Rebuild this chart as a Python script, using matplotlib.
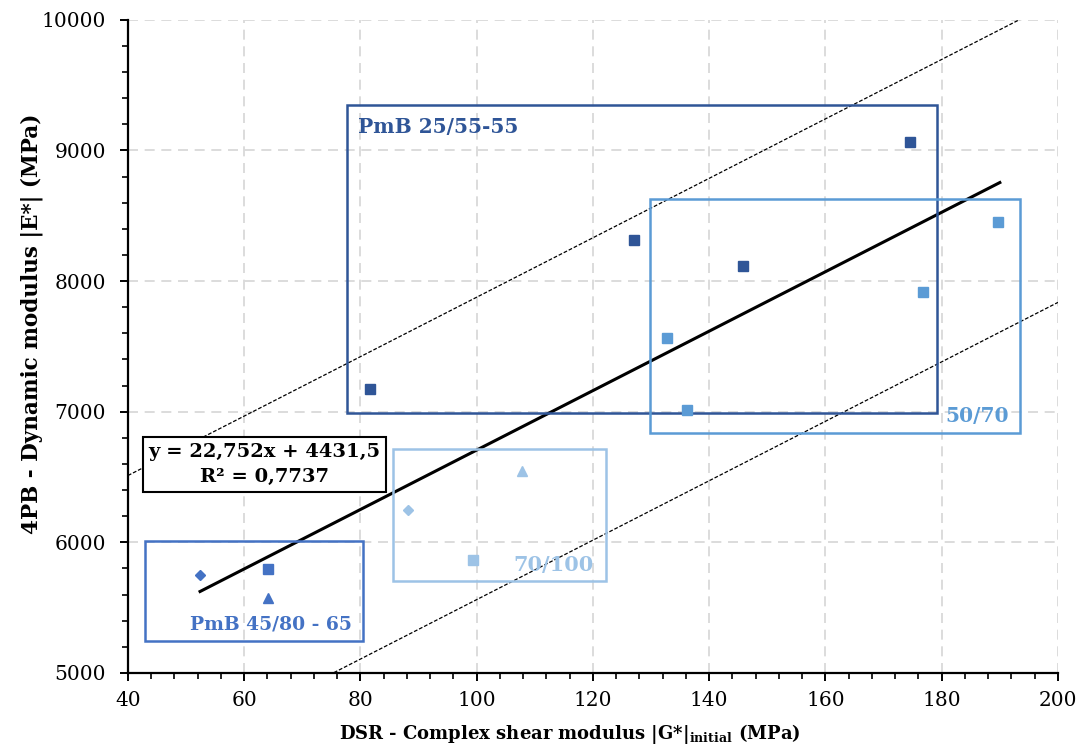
import numpy as np
import matplotlib.pyplot as plt

# Messwerte (DSR |G*| in MPa, 4PB |E*| in MPa)
pmb2555_x = [81.6, 127.0, 145.8, 174.5]
pmb2555_y = [7175, 8315, 8115, 9065]

b5070_x = [132.7, 136.2, 176.8, 189.7]
b5070_y = [7565, 7014, 7917, 8453]

b70100_x = [88.2, 99.4, 107.8]
b70100_y = [6248, 5865, 6547]
b70100_m = ['D', 's', '^']

pmb4580_x = [52.4, 64.1, 64.1]
pmb4580_y = [5750, 5796, 5574]
pmb4580_m = ['D', 's', '^']

# Regression und Streuband
k, d = 22.752, 4431.5
band_oben, band_unten = 1170, -1145
reg_x = [52.4, 190.0]

# Gruppenrahmen: (x0, x1, y0, y1)
rahmen = {
    'PmB 25/55-55': (77.7, 179.2, 6991, 9349),
    '50/70': (129.8, 193.5, 6838, 8629),
    '70/100': (85.6, 122.2, 5704, 6715),
    'PmB 45/80 - 65': (42.9, 80.4, 5245, 6011),
}

c_dunkel = '#2F5597'
c_5070 = '#5B9BD5'
c_70100 = '#9DC3E6'
c_4580 = '#4472C4'

plt.rcParams['font.family'] = 'DejaVu Serif'
plt.rcParams['mathtext.fontset'] = 'dejavuserif'

fig = plt.figure(figsize=(10.8, 7.51), dpi=100)
ax = fig.add_axes([0.1185, 0.1039, 0.8611, 0.8697])

ax.set_xlim(40, 200)
ax.set_ylim(5000, 10000)
ax.set_xticks(np.arange(40, 201, 20))
ax.set_yticks(np.arange(5000, 10001, 1000))
ax.set_xticks(np.arange(40, 201, 4), minor=True)
ax.set_yticks(np.arange(5000, 10001, 200), minor=True)
ax.grid(True, which='major', color='#D5D5D5', linestyle=(0, (6, 4)), linewidth=1.2)
ax.set_axisbelow(True)
for s in ['top', 'right']:
    ax.spines[s].set_visible(False)
for s in ['left', 'bottom']:
    ax.spines[s].set_linewidth(1.6)
ax.tick_params(which='major', direction='out', length=6, width=1.4, labelsize=14.5)
ax.tick_params(axis='y', which='major', pad=10)
ax.tick_params(axis='x', which='major', pad=7)
ax.tick_params(which='minor', direction='out', length=4, width=1.2)

# Streuband
xs = np.array([40, 200])
ax.plot(xs, k * xs + d + band_oben, color='black', linestyle=(0, (3, 1.5)), linewidth=0.9)
ax.plot(xs, k * xs + d + band_unten, color='black', linestyle=(0, (3, 1.5)), linewidth=0.9)

# Regressionsgerade
rx = np.array(reg_x)
ax.plot(rx, k * rx + d, color='black', linewidth=2.2)

# Rahmen
farben = {'PmB 25/55-55': c_dunkel, '50/70': c_5070, '70/100': c_70100,
          'PmB 45/80 - 65': c_4580}
for name, (x0, x1, y0, y1) in rahmen.items():
    ax.add_patch(plt.Rectangle((x0, y0), x1 - x0, y1 - y0, fill=False,
                               edgecolor=farben[name], linewidth=1.8, zorder=3))

# Punkte
ax.plot(pmb2555_x, pmb2555_y, 's', color=c_dunkel, ms=7.5, zorder=4)
ax.plot(b5070_x, b5070_y, 's', color=c_5070, ms=7.5, zorder=4)
for x, y, m in zip(b70100_x, b70100_y, b70100_m):
    ax.plot(x, y, m, color=c_70100, ms=7.5 if m != 'D' else 5.5, zorder=4)
for x, y, m in zip(pmb4580_x, pmb4580_y, pmb4580_m):
    ax.plot(x, y, m, color=c_4580, ms=7.5 if m != 'D' else 5.5, zorder=4)

# Beschriftungen der Gruppen
ax.text(79.5, 9180, 'PmB 25/55-55', color=c_dunkel, fontsize=14.5, fontweight='bold',
        va='center', ha='left')
ax.text(191.5, 6970, '50/70', color=c_5070, fontsize=14.5, fontweight='bold',
        va='center', ha='right')
ax.text(120.1, 5830, '70/100', color=c_70100, fontsize=15, fontweight='bold',
        va='center', ha='right')
ax.text(78.6, 5370, 'PmB 45/80 - 65', color=c_4580, fontsize=13.5, fontweight='bold',
        va='center', ha='right')

# Gleichung
ax.text(63.5, 6596, 'y = 22,752x + 4431,5\nR² = 0,7737', fontsize=14,
        fontweight='bold', ha='center', va='center', linespacing=1.5,
        bbox=dict(boxstyle='square,pad=0.3', facecolor='white',
                  edgecolor='black', linewidth=1.5), zorder=5)

ax.set_xlabel(r'DSR - Complex shear modulus |G*|$_{\mathbf{initial}}$ (MPa)',
              fontsize=13, fontweight='bold', labelpad=4)
ax.xaxis.set_label_coords(0.475, -0.075)
ax.set_ylabel('4PB - Dynamic modulus |E*| (MPa)', fontsize=15.5, fontweight='bold')
ax.yaxis.set_label_coords(-0.091, 0.535)

fig.savefig('out.png', dpi=100)
